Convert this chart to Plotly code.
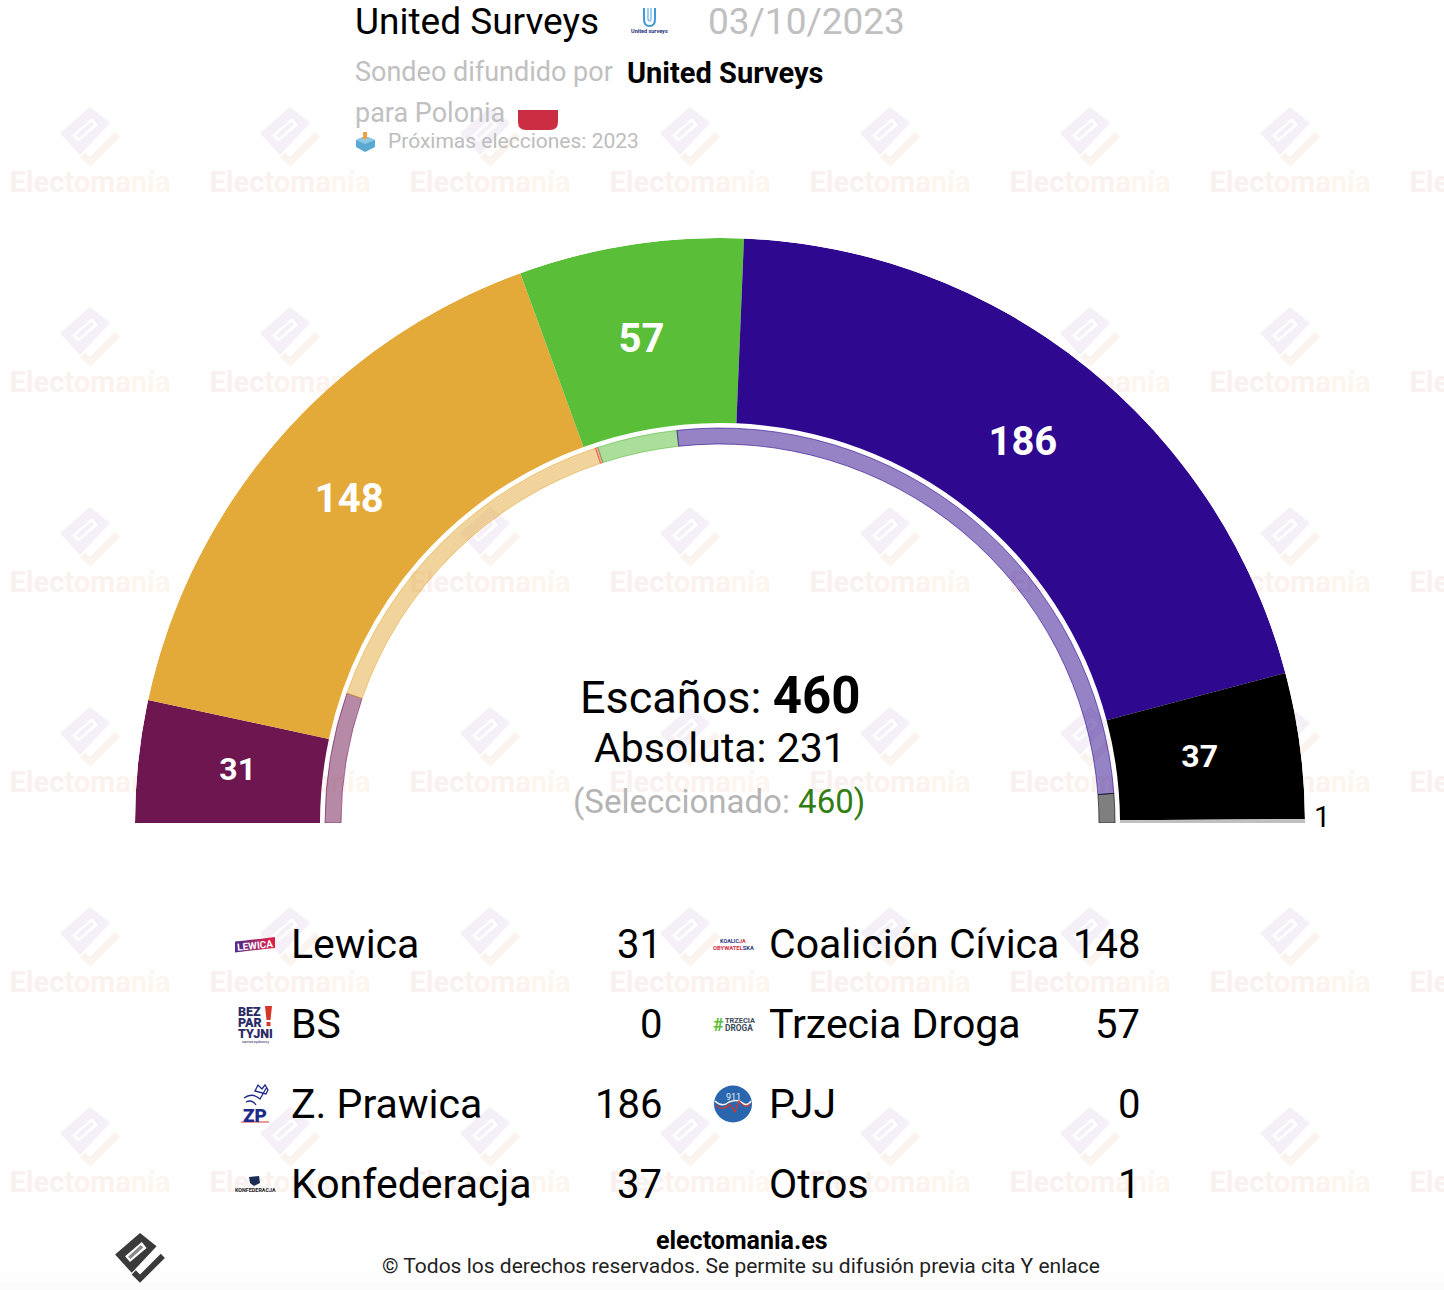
import plotly.graph_objects as go

W, H = 1444, 1290

# ---- data
arc_parties = ["Lewica", "Coalición Cívica", "BS", "Trzecia Droga", "PJJ", "Z. Prawica", "Konfederacja", "Otros"]
arc_seats = [31, 148, 0, 57, 0, 186, 37, 1]
arc_colors = ["#6d1650", "#e3aa3a", "#d0312d", "#5abe38", "#1f5ea8", "#2e088e", "#000000", "#c0c0c0"]

prev_parties = ["Lewica", "Coalición Cívica", "MN", "Trzecia Droga", "Z. Prawica", "Konfederacja"]
prev_seats = [49, 134, 1, 30, 235, 11]
prev_colors = ["109,22,80", "227,170,58", "235,70,60", "90,190,56", "46,8,142", "0,0,0"]

legend_left = ["Lewica", "BS", "Z. Prawica", "Konfederacja"]
legend_left_vals = [31, 0, 186, 37]
legend_right = ["Coalición Cívica", "Trzecia Droga", "PJJ", "Otros"]
legend_right_vals = [148, 57, 0, 1]

FONT = "Roboto"
OUT_IN, OUT_OUT = 400, 585
PREV_IN, PREV_OUT = 379, 395
LABEL_R = {31: 485, 148: 490.5, 57: 487.5, 186: 484, 37: 484}
LABEL_DT = {31: 0, 148: -0.2, 57: -0.47, 186: 0, 37: 0}


def arc_geometry(values):
    total = sum(values)
    mids, widths, acc = [], [], 0
    for v in values:
        w = v * 180 / total
        mids.append(acc + w / 2)
        widths.append(w)
        acc += w
    return mids, widths


fig = go.Figure()
shapes, annos = [], []


def label(x, y, text, size, color="#000", anchor="left", weight=None, va="middle", angle=0):
    f = dict(family=FONT, size=size, color=color)
    if weight:
        f["weight"] = weight
    annos.append(dict(x=x, y=y, xref="x", yref="y", text=text, showarrow=False, xanchor=anchor,
                      yanchor=va, font=f, borderpad=0, borderwidth=0, textangle=angle))


def poly(points, color, layer="below", line=None):
    d = "M" + " L".join(f"{x:.1f},{y:.1f}" for x, y in points) + " Z"
    shapes.append(dict(type="path", path=d, xref="x", yref="y", fillcolor=color,
                       line=dict(width=0) if line is None else line, layer=layer))


def logo(tx, ty, s, c1, c2, c3, layer="below"):
    P = lambda pts: [(tx + (x - 90) * s, ty + (y - 107) * s) for x, y in pts]
    outer = P([(90, 107), (110, 123), (80, 155), (60, 133)])
    inner = P([(92, 118), (72, 135), (78, 142), (98, 125)])
    d = ("M" + " L".join(f"{x:.1f},{y:.1f}" for x, y in outer) + " Z M"
         + " L".join(f"{x:.1f},{y:.1f}" for x, y in inner) + " Z")
    shapes.append(dict(type="path", path=d, xref="x", yref="y", fillcolor=c1, line=dict(width=0), layer=layer))
    poly(P([(91, 121.6), (94, 124.4), (78.5, 138.4), (75.7, 135.6)]), c3, layer)
    poly(P([(115, 132), (120, 137), (90, 167), (80, 157), (85, 152), (90, 157)]), c2, layer)


# ---- watermark (cartesian layer sits under the polar layer)
wm_x, wm_y, wm_t = [], [], []
wm_text = ("<span style='color:#f9f0f0'>Elec</span><span style='color:#fbf2ee'>toma</span>"
           "<span style='color:#fdf6ee'>nía</span>")
for j in range(6):
    for i in range(8):
        cx, cy = 90 + 200 * i, 107 + 200 * j
        logo(cx, cy, 1, "#f5f0f8", "#faf3ee", "#f5f0f8")
        wm_x.append(cx)
        wm_y.append(185 + 200 * j)
        wm_t.append(wm_text)
fig.add_trace(go.Scatter(x=wm_x, y=wm_y, text=wm_t, mode="text", hoverinfo="skip", showlegend=False,
                         textposition="middle center",
                         textfont=dict(family=FONT, size=29, color="#fbf2ee", weight=700)))

# bottom fade
shapes.append(dict(type="rect", x0=0, x1=W, y0=1272, y1=1282, xref="x", yref="y", fillcolor="#fdfdfd", line=dict(width=0), layer="below"))
shapes.append(dict(type="rect", x0=0, x1=W, y0=1282, y1=1290, xref="x", yref="y", fillcolor="#fbfbfb", line=dict(width=0), layer="below"))

# ---- rings
mids, widths = arc_geometry(arc_seats)
keep = [i for i, v in enumerate(arc_seats) if v > 0]
fig.add_trace(go.Barpolar(
    theta=[mids[i] for i in keep], width=[widths[i] for i in keep],
    r=[OUT_OUT - OUT_IN for _ in keep], base=OUT_IN,
    marker=dict(color=[arc_colors[i] for i in keep], line=dict(width=0)),
    text=[arc_parties[i] for i in keep], hoverinfo="text", showlegend=False, subplot="polar"))

pm, pw = arc_geometry(prev_seats)
fig.add_trace(go.Barpolar(
    theta=pm, width=pw, r=[PREV_OUT - PREV_IN for _ in pm], base=PREV_IN,
    marker=dict(color=[f"rgba({c},0.5)" for c in prev_colors],
                line=dict(width=1, color=[f"rgba({c},0.6)" for c in prev_colors])),
    text=prev_parties, hoverinfo="text", showlegend=False, subplot="polar"))

big = [i for i in keep if arc_seats[i] > 1]
fig.add_trace(go.Scatterpolar(
    theta=[mids[i] + LABEL_DT[arc_seats[i]] for i in big], r=[LABEL_R[arc_seats[i]] for i in big],
    text=[str(arc_seats[i]) for i in big], mode="text", hoverinfo="skip", showlegend=False,
    textposition="middle center", subplot="polar",
    textfont=dict(family=FONT, color="#fff", weight=700,
                  size=[32 if arc_seats[i] < 50 else 40 for i in big])))
for i in keep:
    if arc_seats[i] == 1:
        label(1322, 817, str(arc_seats[i]), 29, anchor="center")

# ---- centre
label(720, 695, "Escaños: <b style='font-size:51px'>460</b>", 45, anchor="center")
label(720, 748, "Absoluta: 231", 41, anchor="center")
label(719, 801, "<span style='color:#b4b4b4'>(Seleccionado: </span><span style='color:#2f7d14'>460)</span>", 33, anchor="center")

# ---- header
label(355, 21, "United Surveys", 37)
label(708, 21, "03/10/2023", 37, color="#c0c0c0")
label(355, 72, "Sondeo difundido por", 27, color="#c0c0c0")
label(627, 73, "United Surveys", 29, weight=700)
label(355, 113, "para Polonia", 27, color="#c0c0c0")
label(388, 141, "Próximas elecciones: 2023", 21, color="#bdbdbd")
# flag
shapes.append(dict(type="path", xref="x", yref="y", fillcolor="#cb2e43", line=dict(width=0), layer="above",
                   path="M518,110 L558,110 L558,122 Q558,130 550,130 L526,130 Q518,130 518,122 Z"))
# ballot box
poly([(365, 136), (375, 140), (375, 147), (365, 152), (356, 147), (356, 140)], "#5aa9d2", "above")
poly([(365, 136), (375, 140), (365, 144), (356, 140)], "#8cc8e4", "above")
shapes.append(dict(type="rect", x0=363, x1=367, y0=132, y1=139, xref="x", yref="y", fillcolor="#f0a040", line=dict(width=0), layer="above"))
# United Surveys logo
shapes.append(dict(type="path", xref="x", yref="y", fillcolor="rgba(0,0,0,0)", layer="above",
                   line=dict(color="#3f9ad6", width=2),
                   path="M644,8 L644,19 Q644,26 649.5,26 Q655,26 655,19 L655,8"))
shapes.append(dict(type="path", xref="x", yref="y", fillcolor="rgba(0,0,0,0)", layer="above",
                   line=dict(color="#7fc0e8", width=1.5),
                   path="M648,8 L648,18 Q648,21 649.5,21 Q651,21 651,18 L651,8"))
label(649.5, 31, "United surveys", 5.5, color="#1c2f78", anchor="center", weight=700)

# ---- legend
rows = [944, 1024, 1104, 1184]
for y, n, v in zip(rows, legend_left, legend_left_vals):
    label(291, y, n, 41)
    label(662, y, str(v), 40, anchor="right")
for y, n, v in zip(rows, legend_right, legend_right_vals):
    label(769, y, n, 41)
    label(1140, y, str(v), 40, anchor="right")

# legend logos
grad = ["#5b2a86", "#7d2878", "#a02668", "#c42458", "#d6224a"]
for k, c in enumerate(grad):
    x0, x1 = 235 + 8 * k, 235 + 8 * (k + 1)
    poly([(x0, 941.6 - 0.112 * 8 * k), (x1, 941.6 - 0.112 * 8 * (k + 1)),
          (x1, 952.4 - 0.112 * 8 * (k + 1)), (x0, 952.4 - 0.112 * 8 * k)], c, "above")
label(255, 945, "LEWICA", 10, color="#fff", anchor="center", weight=700, angle=-6)
for y, t in zip([1011.5, 1022, 1033], ["BEZ", "PAR", "TYJNI"]):
    label(238, y, t, 12.5, color="#2b2a66", weight=900)
poly([(265, 1006), (272, 1006), (270.5, 1020), (266.5, 1020)], "#d8352a", "above")
poly([(266.5, 1022), (270.5, 1022), (270.5, 1026), (266.5, 1026)], "#d8352a", "above")
label(255, 1041, "samorządowcy", 4, color="#2b2a66", anchor="center")
label(255, 1115, "ZP", 19, color="#1d2a8a", anchor="center", weight=900)
shapes.append(dict(type="path", xref="x", yref="y", fillcolor="rgba(0,0,0,0)", layer="above",
                   line=dict(color="#1d2a8a", width=1.3),
                   path="M244,1098 Q252,1092 260,1099 L264,1092 L267,1087 M255,1091 L258,1085 L262,1089 L265,1085 L268,1090 L266,1094 Z M246,1102 Q252,1099 256,1105"))
shapes.append(dict(type="rect", x0=241, x1=269, y0=1121.5, y1=1122.5, xref="x", yref="y", fillcolor="#d8352a", line=dict(width=0), layer="above"))
shapes.append(dict(type="path", xref="x", yref="y", fillcolor="#1c2f52", line=dict(width=0), layer="above",
                   path="M249,1177 L259,1176 L260,1183 L254,1186 L250,1183 Z"))
label(255, 1190, "KONFEDERACJA", 5.4, color="#222", anchor="center", weight=700)
label(733, 941, "<span style='color:#2b3a78'>KOALIC</span><span style='color:#cf2e45'>JA</span>", 5.5, anchor="center", weight=700)
label(733, 948, "<span style='color:#cf2e45'>OBYWATEL</span><span style='color:#2b3a78'>SKA</span>", 5.8, anchor="center", weight=700)
label(718.5, 1024, "#", 18, color="#5abe38", anchor="center", weight=700)
label(725, 1020.5, "TRZECIA", 7.4, color="#3a4a5a", weight=700)
label(725, 1028, "DROGA", 8.4, color="#3a4a5a", weight=700)
shapes.append(dict(type="circle", x0=714, x1=752, y0=1085.5, y1=1122.5, xref="x", yref="y", fillcolor="#2a66ae", line=dict(width=0), layer="above"))
shapes.append(dict(type="path", xref="x", yref="y", fillcolor="rgba(0,0,0,0)", layer="above",
                   line=dict(color="#f2f2f2", width=1.5), path="M715,1101 Q722,1108 729,1102 Q738,1098 744,1104 Q748,1106 751,1101"))
shapes.append(dict(type="path", xref="x", yref="y", fillcolor="rgba(0,0,0,0)", layer="above",
                   line=dict(color="#d8352a", width=1.2), path="M716,1105 Q723,1112 730,1104 L735,1112 L739,1101 Q745,1110 750,1104"))
label(733, 1097, "911", 9, color="#e8eef8", anchor="center")

# ---- footer
logo(140, 1233, 0.83, "#3a3a3a", "#3a3a3a", "#8a8a8a", layer="above")
label(742, 1240, "electomania.es", 25, weight=700, anchor="center")
label(741, 1266, "© Todos los derechos reservados. Se permite su difusión previa cita Y enlace", 21, color="#222", anchor="center")

fig.update_layout(
    width=W, height=H, margin=dict(l=0, r=0, t=0, b=0, pad=0), autosize=False,
    paper_bgcolor="#fff", plot_bgcolor="rgba(0,0,0,0)", showlegend=False,
    shapes=shapes, annotations=annos,
    xaxis=dict(range=[0, W], visible=False, fixedrange=True, domain=[0, 1]),
    yaxis=dict(range=[H, 0], visible=False, fixedrange=True, domain=[0, 1]),
    polar=dict(
        domain=dict(x=[135 / W, 1305 / W], y=[1 - 823 / H, 1 - 238 / H]),
        sector=[0, 180], hole=0, bgcolor="rgba(0,0,0,0)",
        radialaxis=dict(range=[0, OUT_OUT], visible=False, showgrid=False),
        angularaxis=dict(direction="clockwise", rotation=180, visible=False, showgrid=False, thetaunit="degrees"),
    ),
)
fig.write_html("out.html", config=dict(displayModeBar=False),
               post_script="document.body.style.margin='0';document.documentElement.style.overflow='hidden';")
